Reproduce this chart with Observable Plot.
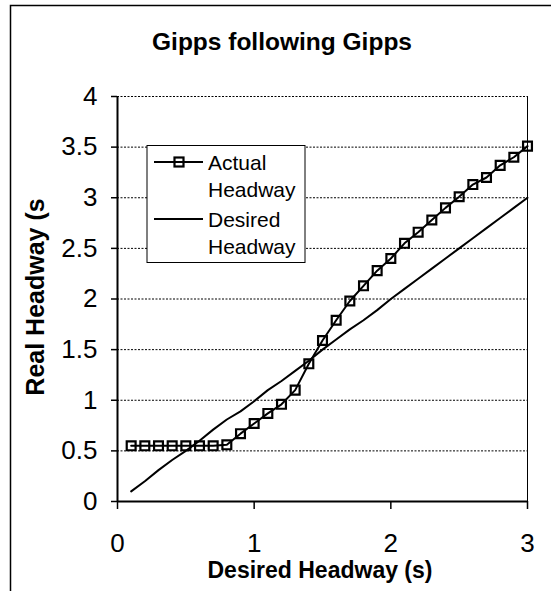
<!DOCTYPE html>
<html>
<head>
<meta charset="utf-8">
<script src="https://cdn.jsdelivr.net/npm/d3@7"></script>
<script src="https://cdn.jsdelivr.net/npm/@observablehq/plot@0.6"></script>
<style>
  html, body { margin: 0; padding: 0; background: #fff; }
  #wrap { position: relative; width: 551px; height: 591px; overflow: hidden; background: #fff; }
  #wrap svg { position: absolute; left: 0; top: 0; }
</style>
</head>
<body>
<div id="wrap"></div>
<script>
const FONT = "'Liberation Sans', Arial, Helvetica, sans-serif";

const chartTitle = "Gipps following Gipps";
const xTitle = "Desired Headway (s)";
const yTitle = "Real Headway (s";
const seriesNames = ["Actual", "Desired"];
const legendLines = [["Actual", "Headway"], ["Desired", "Headway"]];

const xTicks = [0, 1, 2, 3];
const yTicks = [0, 0.5, 1, 1.5, 2, 2.5, 3, 3.5, 4];

const desiredX = [0.1,0.2,0.3,0.4,0.5,0.6,0.7,0.8,0.9,1.0,1.1,1.2,1.3,1.4,1.5,1.6,1.7,1.8,1.9,2.0,2.1,2.2,2.3,2.4,2.5,2.6,2.7,2.8,2.9,3.0];
const actualHeadway = [0.55,0.55,0.55,0.55,0.55,0.55,0.55,0.56,0.67,0.77,0.87,0.96,1.10,1.36,1.59,1.79,1.98,2.13,2.28,2.40,2.55,2.66,2.78,2.90,3.01,3.13,3.20,3.32,3.40,3.51];
const desiredHeadway = [0.10,0.20,0.31,0.41,0.50,0.60,0.71,0.81,0.89,0.99,1.10,1.19,1.29,1.39,1.50,1.60,1.70,1.79,1.89,2.00,2.10,2.20,2.30,2.40,2.50,2.60,2.70,2.80,2.90,3.00];

const actual = desiredX.map((x, i) => ({x, y: actualHeadway[i]}));
const desired = desiredX.map((x, i) => ({x, y: desiredHeadway[i]}));

const chart = Plot.plot({
  width: 551,
  height: 591,
  marginLeft: 117,
  marginRight: 24,
  marginTop: 96,
  marginBottom: 90,
  style: { fontFamily: FONT, fontSize: "26px", color: "#000", background: "transparent", overflow: "visible" },
  x: { domain: [0, 3] },
  y: { domain: [0, 4] },
  marks: [
    Plot.gridY(yTicks.filter(d => d > 0), { stroke: "#000", strokeOpacity: 1, strokeWidth: 1, strokeDasharray: "2,1.5" }),
    Plot.ruleX([3], { stroke: "#000", strokeWidth: 1 }),
    Plot.axisY({ ticks: yTicks, tickSize: 6, tickPadding: 14, label: null, fontSize: 26, tickFormat: d => String(d), strokeWidth: 1.5 }),
    Plot.axisX({ ticks: xTicks, tickSize: 8, tickPadding: 24, label: null, fontSize: 26, tickFormat: d => String(d), strokeWidth: 1.5 }),
    Plot.ruleX([0], { stroke: "#000", strokeWidth: 2 }),
    Plot.ruleY([0], { stroke: "#000", strokeWidth: 2 }),
    Plot.line(desired, { x: "x", y: "y", stroke: "#000", strokeWidth: 2 }),
    Plot.line(actual, { x: "x", y: "y", stroke: "#000", strokeWidth: 2 }),
    Plot.dot(actual, { x: "x", y: "y", symbol: "square", r: 5, stroke: "#000", strokeWidth: 2.2, fill: "none" })
  ]
});

const wrap = document.getElementById("wrap");
wrap.appendChild(chart);

// Overlay: outer frame, titles and legend
const W = 551, H = 591;
const ov = d3.create("svg").attr("width", W).attr("height", H)
  .style("font-family", FONT).style("overflow", "visible");

ov.append("path").attr("d", `M10.5,${H} V5.5 H${W}`).attr("fill", "none").attr("stroke", "#000").attr("stroke-width", 1.5);

ov.append("text").attr("x", 282).attr("y", 50).attr("text-anchor", "middle")
  .attr("font-weight", "bold").attr("font-size", 24.5).text(chartTitle);

ov.append("text").attr("x", 320).attr("y", 578).attr("text-anchor", "middle")
  .attr("font-weight", "bold").attr("font-size", 23).text(xTitle);

ov.append("text").attr("transform", "translate(44,297) rotate(-90)").attr("text-anchor", "middle")
  .attr("font-weight", "bold").attr("font-size", 25).text(yTitle);

// Legend
const lg = ov.append("g");
lg.append("rect").attr("x", 147).attr("y", 145.5).attr("width", 158).attr("height", 117)
  .attr("fill", "#fff").attr("stroke", "#000").attr("stroke-width", 1);
const rowY = [162, 219];
seriesNames.forEach((name, i) => {
  lg.append("line").attr("x1", 154).attr("x2", 203).attr("y1", rowY[i]).attr("y2", rowY[i])
    .attr("stroke", "#000").attr("stroke-width", 2);
  if (name === "Actual") {
    lg.append("rect").attr("x", 174.5).attr("y", rowY[i] - 4.5).attr("width", 9).attr("height", 9)
      .attr("fill", "none").attr("stroke", "#000").attr("stroke-width", 2.2);
  }
  legendLines[i].forEach((t, j) => {
    lg.append("text").attr("x", 208).attr("y", rowY[i] + 8 + j * 27)
      .attr("font-size", 21).text(t);
  });
});

wrap.appendChild(ov.node());
</script>
</body>
</html>
